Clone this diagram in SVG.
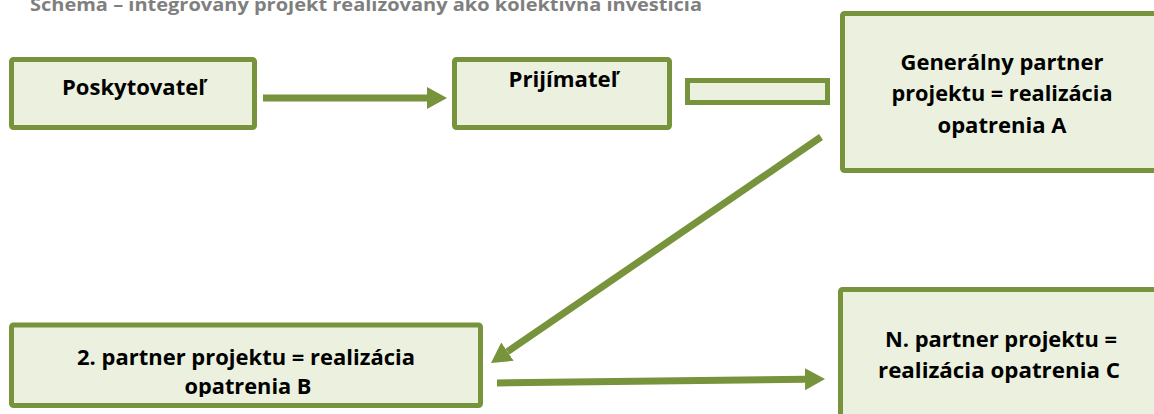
<svg xmlns="http://www.w3.org/2000/svg" width="1154" height="414" viewBox="0 0 1154 414">
<style>
.box{fill:#EBF1DE;stroke:#77933C;stroke-width:5;}
.lbl{font-family:"Open Sans","Liberation Sans",sans-serif;font-weight:bold;font-size:21px;fill:#000;text-anchor:middle;}
.title{font-family:"Open Sans","Liberation Sans",sans-serif;font-weight:bold;font-size:17px;fill:#7F7F7F;}
.conn{stroke:#77933C;stroke-width:7;fill:none;}
</style>
<defs>
<marker id="ah" markerUnits="userSpaceOnUse" markerWidth="22" markerHeight="24" viewBox="0 -12 22 24" refX="0" refY="0" orient="auto">
<path d="M0,-11 L20,0 L0,11 z" fill="#77933C"/>
</marker>
<clipPath id="clipB"><rect x="0" y="330" width="490" height="67"/></clipPath>
</defs>
<text class="title" x="30" y="11" textLength="672" lengthAdjust="spacingAndGlyphs">Schéma  – integrovaný projekt realizovaný ako kolektívna investícia</text>
<g id="poskytovatel">
<rect class="box" x="11.5" y="59.5" width="243" height="68" rx="2"/>
<text class="lbl" x="133.5" y="95" textLength="143" lengthAdjust="spacingAndGlyphs">Poskytovateľ</text>
</g>
<g id="prijimatel">
<rect class="box" x="454.5" y="59.5" width="215" height="68" rx="2"/>
<text class="lbl" x="563" y="87" textLength="109" lengthAdjust="spacingAndGlyphs">Prijímateľ</text>
</g>
<g id="spojka">
<rect class="box" x="687.5" y="80.5" width="140" height="22"/>
</g>
<g id="generalny">
<rect class="box" x="842.5" y="13.5" width="400" height="157" rx="2"/>
<text class="lbl" x="1002" y="70" textLength="203" lengthAdjust="spacingAndGlyphs">Generálny partner</text>
<text class="lbl" x="1002" y="101" textLength="221" lengthAdjust="spacingAndGlyphs">projektu = realizácia</text>
<text class="lbl" x="1002" y="133" textLength="129" lengthAdjust="spacingAndGlyphs">opatrenia A</text>
</g>
<g id="partner2">
<rect class="box" x="11.5" y="325" width="469" height="80.5" rx="2"/>
<g clip-path="url(#clipB)">
<text class="lbl" x="246" y="365" textLength="338" lengthAdjust="spacingAndGlyphs">2. partner projektu = realizácia</text>
<text class="lbl" x="248" y="394" textLength="127" lengthAdjust="spacingAndGlyphs">opatrenia B</text>
</g>
</g>
<g id="partnerN">
<rect class="box" x="840.5" y="289.5" width="400" height="200" rx="2"/>
<text class="lbl" x="1001" y="347" textLength="232" lengthAdjust="spacingAndGlyphs">N. partner projektu =</text>
<text class="lbl" x="999" y="378" textLength="242" lengthAdjust="spacingAndGlyphs">realizácia opatrenia C</text>
</g>
<g id="connectors">
<line class="conn" x1="263" y1="98" x2="427" y2="98" marker-end="url(#ah)"/>
<line class="conn" x1="821" y1="137" x2="507.5" y2="351.7" marker-end="url(#ah)"/>
<line class="conn" x1="497" y1="383" x2="805" y2="379.3" marker-end="url(#ah)"/>
</g>
</svg>
